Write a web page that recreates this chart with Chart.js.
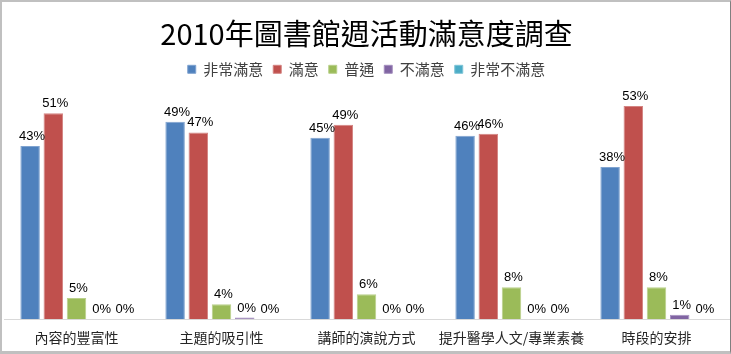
<!DOCTYPE html>
<html>
<head>
<meta charset="utf-8">
<script src="https://cdn.jsdelivr.net/npm/chart.js@4/dist/chart.umd.min.js"></script>
<style>
  html, body { margin: 0; padding: 0; background: #fff; }
  #wrap { position: relative; width: 731px; height: 354px; }
  #chart { position: absolute; left: 0; top: 0; }
  #frame {
    position: absolute; left: 0; top: 0; width: 731px; height: 354px;
    box-sizing: border-box; pointer-events: none;
    border-top: 2px solid #c0c0c0; border-left: 2px solid #c0c0c0;
    border-bottom: 3px solid #c0c0c0; border-right: 1px solid #808080;
  }
</style>
</head>
<body>
<div id="wrap">
  <canvas id="chart" width="731" height="354"></canvas>
  <div id="frame"></div>
</div>
<script>
const categories = ["內容的豐富性", "主題的吸引性", "講師的演說方式", "提升醫學人文/專業素養", "時段的安排"];
const seriesNames = ["非常滿意", "滿意", "普通", "不滿意", "非常不滿意"];

// percentages
const veryGood = [43.2, 49.3, 45.3, 45.8, 38];
const good = [51.4, 46.6, 48.5, 46.3, 53.2];
const neutral = [5.3, 3.7, 6.2, 8, 8];
const bad = [0, 0.4, 0, 0, 1.1];
const veryBad = [0, 0, 0, 0, 0];

const colors = ["#4f81bd", "#c0504d", "#9bbb59", "#8064a2", "#4bacc6"];
const edges = ["#7fa3d0", "#d48482", "#b9d08b", "#a48fbf", "#7fc5d8"];

const cjk = "'Noto Sans CJK TC', 'Noto Sans CJK SC', sans-serif";

// draws the "xx%" text above every bar
const valueLabels = {
  id: "valueLabels",
  afterDatasetsDraw(chart) {
    const ctx = chart.ctx;
    ctx.save();
    ctx.font = "13px 'Liberation Sans', Arial, sans-serif";
    ctx.fillStyle = "#000";
    ctx.textAlign = "center";
    ctx.textBaseline = "alphabetic";
    chart.data.datasets.forEach((ds, i) => {
      const meta = chart.getDatasetMeta(i);
      meta.data.forEach((bar, j) => {
        const v = ds.data[j];
        ctx.fillText(Math.round(v) + "%", bar.x + 2, bar.y - 6);
      });
    });
    ctx.restore();
  }
};

const allSeries = [veryGood, good, neutral, bad, veryBad];

new Chart(document.getElementById("chart"), {
  type: "bar",
  data: {
    labels: categories,
    datasets: seriesNames.map((name, i) => ({
      label: name,
      data: allSeries[i],
      backgroundColor: colors[i],
      borderColor: edges[i],
      borderWidth: 1,
      categoryPercentage: 0.8,
      barPercentage: 0.84
    }))
  },
  options: {
    responsive: false,
    animation: false,
    layout: { padding: { top: 0, bottom: -2, left: 4, right: 2 } },
    plugins: {
      title: {
        display: true,
        text: "2010年圖書館週活動滿意度調查",
        color: "#000",
        font: { family: cjk, size: 29, weight: "normal", lineHeight: 1.2 },
        padding: { top: 17, bottom: 0 }
      },
      legend: {
        display: true,
        position: "top",
        labels: {
          boxWidth: 8,
          boxHeight: 8,
          padding: 10,
          color: "#404040",
          font: { family: cjk, size: 15 }
        }
      },
      tooltip: { enabled: false }
    },
    scales: {
      x: {
        grid: { display: false, drawTicks: false },
        border: { display: true, color: "#d9d9d9", width: 1 },
        ticks: {
          padding: 10,
          maxRotation: 0,
          minRotation: 0,
          autoSkip: false,
          color: "#262626",
          font: { family: cjk, size: 14 }
        }
      },
      y: {
        display: false,
        min: 0,
        max: 58
      }
    }
  },
  plugins: [valueLabels]
});
</script>
</body>
</html>
